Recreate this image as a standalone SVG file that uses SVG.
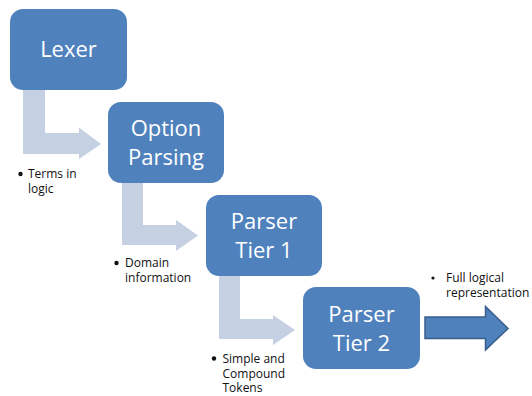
<svg xmlns="http://www.w3.org/2000/svg" width="532" height="396" viewBox="0 0 532 396">
  <style>
    .box { fill: #4f81bd; }
    .box-label { font-family: "Open Sans", "Noto Sans", sans-serif; font-size: 22px; fill: #ffffff; text-anchor: middle; }
    .step-arrow { fill: #c6d0e3; }
    .out-arrow { fill: #4f81bd; stroke: #385d8a; stroke-width: 1.5; stroke-linejoin: miter; }
    .note { font-family: "Open Sans", "Noto Sans", sans-serif; font-size: 12px; fill: #111111; }
    .bullet { fill: #111111; }
  </style>

  <rect width="532" height="396" fill="#ffffff"/>

  <!-- connectors: bent step arrows between stages, plus the final output arrow -->
  <g id="connectors">
    <path class="step-arrow" d="M23,90 H45 V133 H79 V127.5 L101,144 L79,159 V154 H23 Z"/>
    <path class="step-arrow" d="M122,183 H143 V225 H176 V220 L198,235.5 L176,251 V245 H122 Z"/>
    <path class="step-arrow" d="M219,276 H240 V319 H273 V315 L295,330 L273,345 V339 H219 Z"/>
    <path class="out-arrow" d="M425,317 H485.5 V306.5 L508,328.5 L485.5,350 V338.5 H425 Z"/>
  </g>

  <!-- stages -->
  <g id="lexer">
    <rect class="box" x="10" y="9" width="117" height="81" rx="13"/>
    <text class="box-label" x="68.5" y="57">Lexer</text>
  </g>

  <g id="option-parsing">
    <rect class="box" x="108" y="102" width="116" height="81" rx="13"/>
    <text class="box-label" x="166" y="136">Option</text>
    <text class="box-label" x="166" y="165">Parsing</text>
  </g>

  <g id="parser-tier-1">
    <rect class="box" x="206" y="195" width="116" height="81" rx="13"/>
    <text class="box-label" x="264" y="229">Parser</text>
    <text class="box-label" x="264" y="258">Tier 1</text>
  </g>

  <g id="parser-tier-2">
    <rect class="box" x="303" y="287" width="117" height="82" rx="13"/>
    <text class="box-label" x="361.5" y="321.5">Parser</text>
    <text class="box-label" x="361.5" y="350.5">Tier 2</text>
  </g>

  <!-- notes on what each step hands on -->
  <g id="note-terms">
    <circle class="bullet" cx="20.5" cy="174" r="2.2"/>
    <text class="note" x="28" y="178">Terms in</text>
    <text class="note" x="28" y="193">logic</text>
  </g>

  <g id="note-domain">
    <circle class="bullet" cx="116.5" cy="263" r="2.2"/>
    <text class="note" x="125" y="267">Domain</text>
    <text class="note" x="125" y="282">information</text>
  </g>

  <g id="note-tokens">
    <circle class="bullet" cx="214" cy="358.5" r="2.2"/>
    <text class="note" x="222.5" y="362.5">Simple and</text>
    <text class="note" x="222.5" y="377.5">Compound</text>
    <text class="note" x="222.5" y="392">Tokens</text>
  </g>

  <g id="note-full">
    <circle class="bullet" cx="433" cy="278" r="1.6"/>
    <text class="note" x="446" y="282">Full logical</text>
    <text class="note" x="446" y="297">representation</text>
  </g>
</svg>
